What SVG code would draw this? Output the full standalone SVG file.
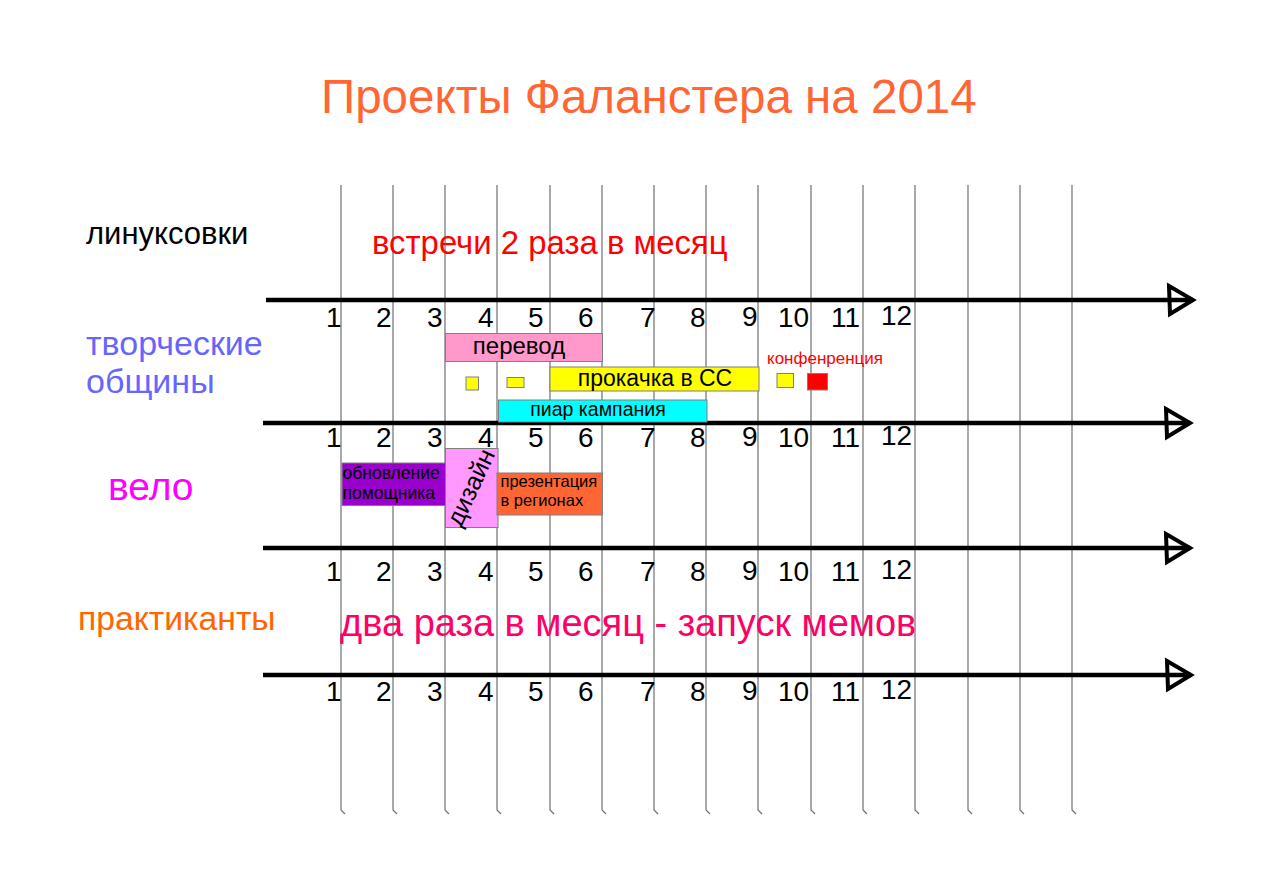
<svg xmlns="http://www.w3.org/2000/svg" width="1280" height="874" viewBox="0 0 1280 874">
<style>
text{font-family:"Liberation Sans",Arial,sans-serif}
.grid line,.grid path{stroke:#707070;stroke-width:1.2;fill:none}
.axis line{stroke:#000;stroke-width:4.5}
.axis path{stroke:#000;stroke-width:4;fill:none;stroke-linejoin:miter}
.box{stroke:#7f7f7f;stroke-width:1}
.bt{fill:#000}
</style>
<rect width="1280" height="874" fill="#fff"/>
<text x="321" y="113" font-size="47.5" fill="#FF6633">Проекты Фаланстера на 2014</text>
<g class="grid" id="grid">
<path d="M341 185V810l4 4M393 185V810l4 4M445 185V810l4 4M497 185V810l4 4M550 185V810l4 4M602 185V810l4 4M654 185V810l4 4M706 185V810l4 4M758 185V810l4 4M811 185V810l4 4M863 185V810l4 4M915 185V810l4 4M968 185V810l4 4M1020 185V810l4 4M1072 185V810l4 4"/>
</g>
<g class="axis" id="connectors">
<line x1="266" y1="300" x2="1193" y2="300"/>
<path d="M1169 286L1193 300L1170 314Z"/>
<line x1="263" y1="423" x2="1190" y2="423"/>
<path d="M1166 409L1190 423L1167 437Z"/>
<line x1="263" y1="548" x2="1190" y2="548"/>
<path d="M1166 534L1190 548L1167 562Z"/>
<line x1="263" y1="675" x2="1191" y2="675"/>
<path d="M1167 661L1191 675L1168 689Z"/>
</g>
<defs>
<g id="nums" font-family="Liberation Sans, Arial, sans-serif" font-size="28" fill="#000">
<text x="326" y="0">1</text><text x="376" y="0">2</text><text x="427" y="0">3</text><text x="478" y="0">4</text><text x="528" y="0">5</text><text x="578" y="0">6</text><text x="640" y="0">7</text><text x="690" y="0">8</text><text x="742" y="-1">9</text><text x="778" y="0">10</text><text x="831" y="0">11</text><text x="881" y="-2">12</text>
</g>
</defs>
<g id="months">
<use href="#nums" transform="translate(0,327)"/>
<use href="#nums" transform="translate(0,447)"/>
<use href="#nums" transform="translate(0,581)"/>
<use href="#nums" transform="translate(0,701)"/>
</g>
<g id="label-linuksovki"><text x="86" y="244" font-size="31" fill="#000">линуксовки</text></g>
<g id="label-tvorcheskie"><text x="86" y="355" font-size="34" fill="#6666FF">творческие</text><text x="86" y="393" font-size="34" fill="#6666FF">общины</text></g>
<g id="label-velo"><text x="108" y="500" font-size="39" fill="#FF00FF">вело</text></g>
<g id="label-praktikanty"><text x="78" y="630" font-size="33.7" fill="#FF6600">практиканты</text></g>
<g id="note-vstrechi"><text x="372" y="254" font-size="32.9" fill="#FF0000">встречи 2 раза в месяц</text></g>
<g id="note-memy"><text x="340" y="636" font-size="38" fill="#FF0066">два раза в месяц - запуск мемов</text></g>
<g id="perevod"><rect class="box" x="445.5" y="333.5" width="157" height="28" fill="#FF99CC"/><text class="bt" x="519" y="354" font-size="24" text-anchor="middle">перевод</text></g>
<g id="sq1"><rect class="box" x="466" y="377" width="12.5" height="13" fill="#FFFF00"/></g>
<g id="sq2"><rect class="box" x="507" y="377.5" width="17" height="10" fill="#FFFF00"/></g>
<g id="prokachka"><rect class="box" x="550" y="367" width="209" height="24" fill="#FFFF00"/><text class="bt" x="655" y="386" font-size="23" text-anchor="middle">прокачка в СС</text></g>
<g id="sq3"><rect class="box" x="777" y="373.5" width="16.5" height="14" fill="#FFFF00"/></g>
<g id="konf"><text x="767" y="364" font-size="17" fill="#FF0000">конфенренция</text><rect class="box" x="807.5" y="373.5" width="20" height="16.5" fill="#FF0000"/></g>
<g id="piar"><rect class="box" x="498.5" y="400" width="208.5" height="22" fill="#00FFFF"/><text class="bt" x="598" y="416" font-size="19.5" text-anchor="middle">пиар кампания</text></g>
<g id="obnovlenie"><rect class="box" x="342" y="463" width="103.5" height="42.5" fill="#9900CC"/><text class="bt" x="342.5" y="478.5" font-size="17.5">обновление</text><text class="bt" x="342.5" y="499" font-size="17.5">помощника</text></g>
<g id="dizain"><rect class="box" x="445.5" y="448.5" width="52.5" height="79" fill="#FF99FF"/><text class="bt" font-size="25" text-anchor="middle" transform="translate(472,488) rotate(-65)" y="7">дизайн</text></g>
<g id="prezentacia"><rect class="box" x="497" y="473" width="105.5" height="42" fill="#FF6633"/><text class="bt" x="500.5" y="487" font-size="16.5">презентация</text><text class="bt" x="500.5" y="506" font-size="16.5">в регионах</text></g>
</svg>
